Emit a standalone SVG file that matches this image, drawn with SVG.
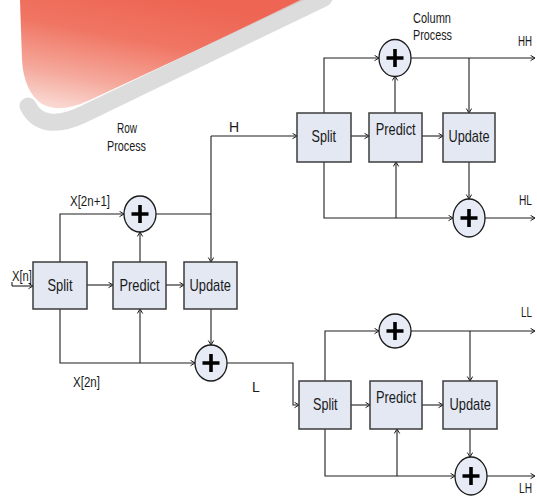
<svg xmlns="http://www.w3.org/2000/svg" width="537" height="497" viewBox="0 0 537 497">
<style>
.box{fill:#e3e8f3;stroke:#3c3c3c;stroke-width:1.5}
.sum{fill:#e6ebf5;stroke:#1a1a1a;stroke-width:1.3}
.plus{stroke:#000;stroke-width:3.6;fill:none}
.c{fill:none;stroke:#1e1e1e;stroke-width:1.1;marker-end:url(#a)}
.n{fill:none;stroke:#1e1e1e;stroke-width:1.1}
.t{font-family:"Liberation Sans",Arial,sans-serif;font-size:17px;fill:#1a1a1a}
.s{font-family:"Liberation Sans",Arial,sans-serif;font-size:14px;fill:#1a1a1a}
</style>
<defs>
<marker id="a" markerUnits="userSpaceOnUse" markerWidth="8" markerHeight="8" refX="5" refY="3" orient="auto">
<path d="M0.5,0.3 L5,3 L0.5,5.7" fill="none" stroke="#1e1e1e" stroke-width="1"/>
</marker>
<linearGradient id="rg" x1="0.05" y1="1" x2="0.55" y2="0">
<stop offset="0" stop-color="#fae0db"/>
<stop offset="0.3" stop-color="#f5a89b"/>
<stop offset="0.65" stop-color="#f07563"/>
<stop offset="1" stop-color="#ee6553"/>
</linearGradient>
</defs>
<g id="watermark">
<path d="M20,0 L304,0 L90,100 Q60,114 42,104 Q24,92 22,60 Z" fill="url(#rg)"/>
<path d="M324,-2 L84,114 Q42,134 28,106" fill="none" stroke="#d6d6d6" stroke-width="17" stroke-linecap="round" opacity="0.85"/>
</g>
<g id="connectors">
<path class="n" d="M12,282 V286"/>
<path class="c" d="M12,286 H33"/>
<path class="c" d="M87,285 H113"/>
<path class="c" d="M166,285 H184"/>
<path class="c" d="M60,262 V214 H124"/>
<path class="c" d="M140,262 V232"/>
<path class="n" d="M156,214 H211"/>
<path class="c" d="M211,136 V262"/>
<path class="c" d="M211,136 H297"/>
<path class="c" d="M60,309 V363 H195"/>
<path class="c" d="M140,363 V309"/>
<path class="c" d="M211,309 V345"/>
<path class="c" d="M227,363 H293 V405 H299"/>
<path class="c" d="M351,136 H369"/>
<path class="c" d="M422,136 H443"/>
<path class="c" d="M324,113 V58 H379"/>
<path class="c" d="M395,113 V76"/>
<path class="c" d="M411,58 H535"/>
<path class="c" d="M469,58 V113"/>
<path class="c" d="M324,162 V218 H453"/>
<path class="c" d="M396,218 V162"/>
<path class="c" d="M469,162 V199"/>
<path class="c" d="M485,218 H535"/>
<path class="c" d="M351,405 H370"/>
<path class="c" d="M422,405 H443"/>
<path class="c" d="M325,381 V331 H379"/>
<path class="c" d="M411,331 H535"/>
<path class="c" d="M470,331 V381"/>
<path class="c" d="M325,429 V476 H455"/>
<path class="c" d="M397,476 V429"/>
<path class="c" d="M470,429 V457"/>
<path class="c" d="M487,476 H535"/>
</g>
<g id="row-split"><rect class="box" x="33" y="262" width="54" height="47"/><text class="t" x="47.5" y="291" textLength="25" lengthAdjust="spacingAndGlyphs">Split</text></g>
<g id="row-predict"><rect class="box" x="113" y="262" width="53" height="47"/><text class="t" x="119.5" y="291" textLength="40" lengthAdjust="spacingAndGlyphs">Predict</text></g>
<g id="row-update"><rect class="box" x="184" y="262" width="53" height="47"/><text class="t" x="189.5" y="291" textLength="41.5" lengthAdjust="spacingAndGlyphs">Update</text></g>
<g id="row-sum-odd"><ellipse class="sum" cx="140" cy="214" rx="16" ry="18"/><path class="plus" d="M131.5,214 H148.5 M140,205 V223"/></g>
<g id="row-sum-even"><ellipse class="sum" cx="211" cy="363" rx="16" ry="18"/><path class="plus" d="M202.5,363 H219.5 M211,354 V372"/></g>
<g id="colH-split"><rect class="box" x="297" y="113" width="54" height="49"/><text class="t" x="311.5" y="142" textLength="24.5" lengthAdjust="spacingAndGlyphs">Split</text></g>
<g id="colH-predict"><rect class="box" x="369" y="113" width="53" height="49"/><text class="t" x="375.7" y="135" textLength="40" lengthAdjust="spacingAndGlyphs">Predict</text></g>
<g id="colH-update"><rect class="box" x="443" y="113" width="52" height="49"/><text class="t" x="448.5" y="142" textLength="41" lengthAdjust="spacingAndGlyphs">Update</text></g>
<g id="colH-sum-top"><ellipse class="sum" cx="395" cy="58" rx="16" ry="18.5"/><path class="plus" d="M386.5,58 H403.5 M395,49 V67"/></g>
<g id="colH-sum-bottom"><ellipse class="sum" cx="469" cy="218" rx="16" ry="19"/><path class="plus" d="M460.5,218 H477.5 M469,209 V227"/></g>
<g id="colL-split"><rect class="box" x="299" y="381" width="52" height="48"/><text class="t" x="313" y="410" textLength="24.5" lengthAdjust="spacingAndGlyphs">Split</text></g>
<g id="colL-predict"><rect class="box" x="370" y="381" width="52" height="48"/><text class="t" x="376" y="403" textLength="40" lengthAdjust="spacingAndGlyphs">Predict</text></g>
<g id="colL-update"><rect class="box" x="443" y="381" width="54" height="48"/><text class="t" x="449.5" y="410" textLength="41.5" lengthAdjust="spacingAndGlyphs">Update</text></g>
<g id="colL-sum-top"><ellipse class="sum" cx="395" cy="331" rx="16" ry="17"/><path class="plus" d="M386.5,331 H403.5 M395,322 V340"/></g>
<g id="colL-sum-bottom"><ellipse class="sum" cx="471" cy="476" rx="16" ry="19"/><path class="plus" d="M462.5,476 H479.5 M471,467 V485"/></g>
<g id="labels">
<text class="s" x="12" y="281" textLength="20" lengthAdjust="spacingAndGlyphs">X[n]</text>
<text class="s" x="70" y="206" textLength="40" lengthAdjust="spacingAndGlyphs">X[2n+1]</text>
<text class="s" x="73" y="387" textLength="27" lengthAdjust="spacingAndGlyphs">X[2n]</text>
<text class="s" x="252" y="392">L</text>
<text class="s" x="229" y="132">H</text>
<text class="s" x="117" y="133" textLength="20" lengthAdjust="spacingAndGlyphs">Row</text>
<text class="s" x="107" y="151" textLength="39" lengthAdjust="spacingAndGlyphs">Process</text>
<text class="s" x="413" y="23" textLength="38" lengthAdjust="spacingAndGlyphs">Column</text>
<text class="s" x="413" y="40" textLength="39" lengthAdjust="spacingAndGlyphs">Process</text>
<text class="s" x="518" y="46" textLength="14" lengthAdjust="spacingAndGlyphs">HH</text>
<text class="s" x="519" y="205" textLength="13" lengthAdjust="spacingAndGlyphs">HL</text>
<text class="s" x="521" y="317" textLength="11" lengthAdjust="spacingAndGlyphs">LL</text>
<text class="s" x="519" y="493" textLength="13" lengthAdjust="spacingAndGlyphs">LH</text>
</g>
</svg>
